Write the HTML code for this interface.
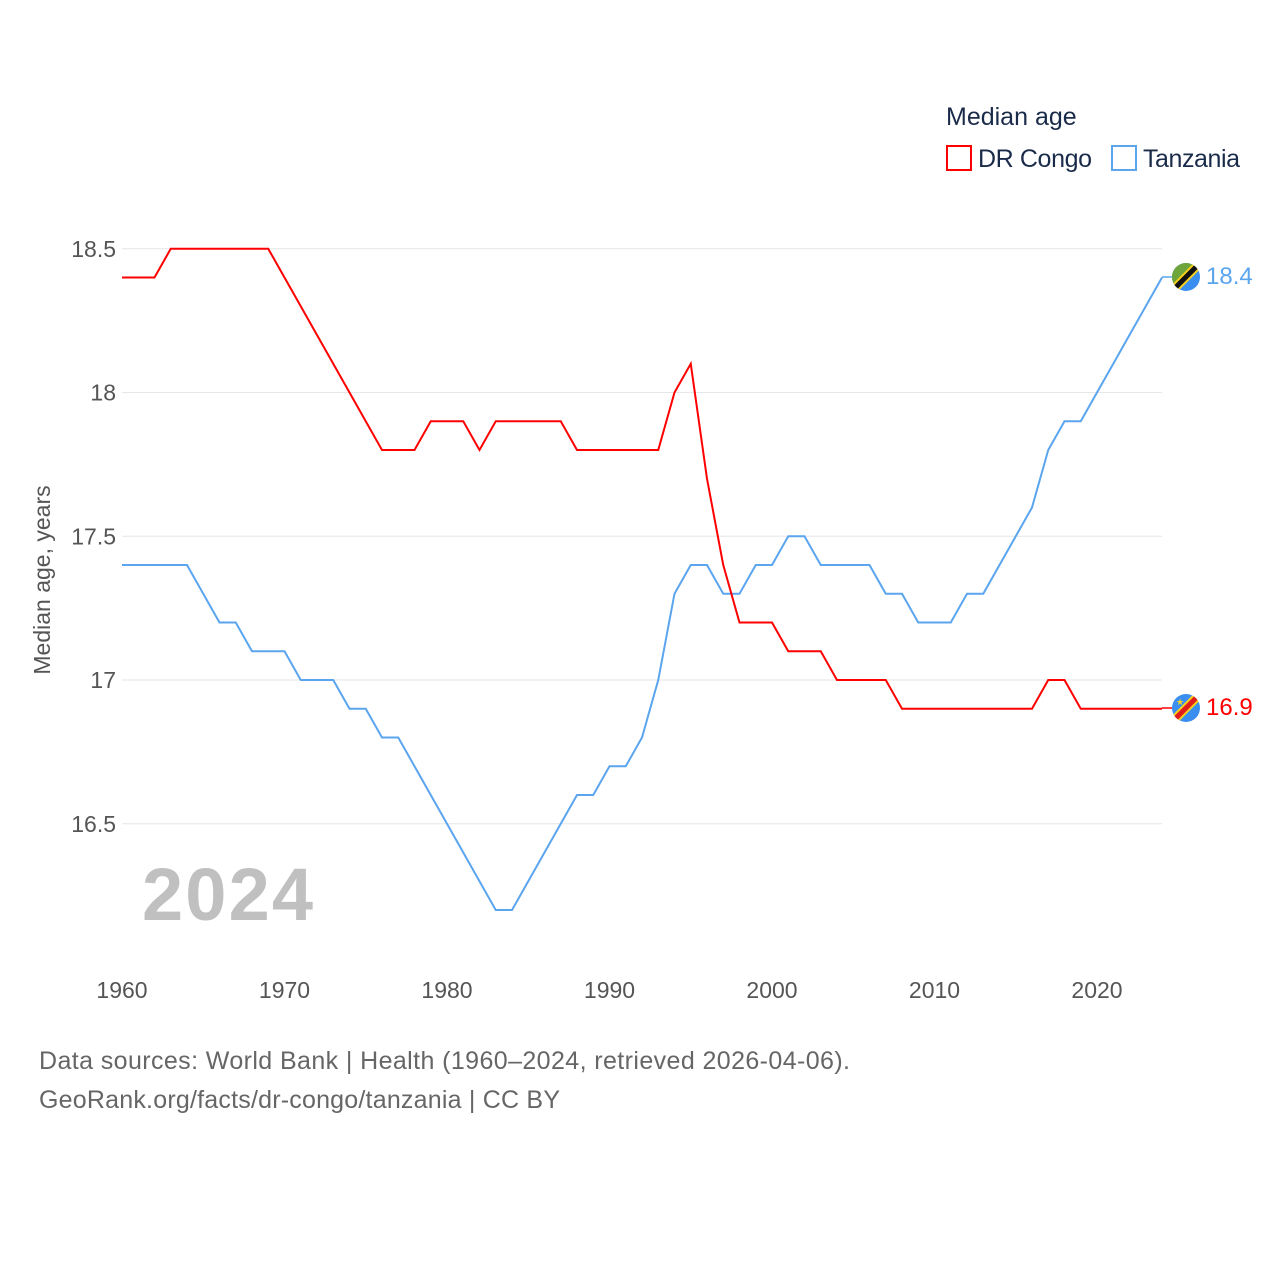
<!DOCTYPE html>
<html><head><meta charset="utf-8"><style>
body{margin:0;background:#fff;font-family:"Liberation Sans",sans-serif;}
svg text{font-family:"Liberation Sans",sans-serif;}
</style></head><body>
<svg id="chart" width="1280" height="1280" xmlns="http://www.w3.org/2000/svg">
<text x="946" y="125" font-size="25" fill="#1a2b4a">Median age</text>
<g><rect x="947" y="146" width="24" height="24" fill="none" stroke="#ff0000" stroke-width="2"/><text x="978" y="167" font-size="25" fill="#1a2b4a" textLength="114">DR Congo</text></g>
<g><rect x="1112" y="146" width="24" height="24" fill="none" stroke="#5aa5ee" stroke-width="2"/><text x="1143" y="167" font-size="25" fill="#1a2b4a" textLength="97">Tanzania</text></g>
<g id="grid"></g>
<g id="xticks"></g>
<text transform="translate(50,580) rotate(-90)" text-anchor="middle" font-size="23" fill="#555">Median age, years</text>
<text x="142" y="920" font-size="74" font-weight="bold" fill="#c0c0c0" textLength="171">2024</text>
<g id="series"></g>
<line x1="1162" y1="277" x2="1172" y2="277" stroke="#5aa5ee" stroke-width="1.5"/>
<line x1="1162" y1="708" x2="1172" y2="708" stroke="#ff0000" stroke-width="1.5"/>
<g>
<clipPath id="c1"><circle cx="1186" cy="277" r="14"/></clipPath>
<g clip-path="url(#c1)"><rect x="1170" y="261" width="32" height="32" fill="#3a8ef0"/><polygon points="1170,261 1202,261 1170,293" fill="#6fa43a"/><line x1="1170" y1="293" x2="1202" y2="261" stroke="#f5d020" stroke-width="9"/><line x1="1170" y1="293" x2="1202" y2="261" stroke="#111" stroke-width="5"/></g></g>
<g>
<clipPath id="c2"><circle cx="1186" cy="708" r="14"/></clipPath>
<g clip-path="url(#c2)"><rect x="1170" y="692" width="32" height="32" fill="#3a8ef0"/><line x1="1170" y1="724" x2="1202" y2="692" stroke="#f5d020" stroke-width="9"/><line x1="1170" y1="724" x2="1202" y2="692" stroke="#e21b1b" stroke-width="5"/><text x="1176" y="705" font-size="9" fill="#f5d020">★</text></g></g>
<text x="1206" y="284" font-size="24" fill="#5aa5ee">18.4</text>
<text x="1206" y="715" font-size="24" fill="#ff0000">16.9</text>
<text x="39" y="1069" font-size="25" fill="#666" textLength="811">Data sources: World Bank | Health (1960–2024, retrieved 2026-04-06).</text>
<text x="39" y="1108" font-size="25" fill="#666" textLength="521">GeoRank.org/facts/dr-congo/tanzania | CC BY</text>
</svg>
<script>
const years=[];for(let y=1960;y<=2024;y++)years.push(y);
const congo=[18.4,18.4,18.4,18.5,18.5,18.5,18.5,18.5,18.5,18.5,18.4,18.3,18.2,18.1,18.0,17.9,17.8,17.8,17.8,17.9,17.9,17.9,17.8,17.9,17.9,17.9,17.9,17.9,17.8,17.8,17.8,17.8,17.8,17.8,18.0,18.1,17.7,17.4,17.2,17.2,17.2,17.1,17.1,17.1,17.0,17.0,17.0,17.0,16.9,16.9,16.9,16.9,16.9,16.9,16.9,16.9,16.9,17.0,17.0,16.9,16.9,16.9,16.9,16.9,16.9];
const tanzania=[17.4,17.4,17.4,17.4,17.4,17.3,17.2,17.2,17.1,17.1,17.1,17.0,17.0,17.0,16.9,16.9,16.8,16.8,16.7,16.6,16.5,16.4,16.3,16.2,16.2,16.3,16.4,16.5,16.6,16.6,16.7,16.7,16.8,17.0,17.3,17.4,17.4,17.3,17.3,17.4,17.4,17.5,17.5,17.4,17.4,17.4,17.4,17.3,17.3,17.2,17.2,17.2,17.3,17.3,17.4,17.5,17.6,17.8,17.9,17.9,18.0,18.1,18.2,18.3,18.4];
const yTicks=[16.5,17,17.5,18,18.5];
const yTickLabels=["16.5","17","17.5","18","18.5"];
const xTicks=[1960,1970,1980,1990,2000,2010,2020];
const NS="http://www.w3.org/2000/svg";
const xs=y=>122+(y-1960)*16.25;
const ys=v=>680-(v-17)*287.5;
const grid=document.getElementById('grid');
yTicks.forEach((t,i)=>{
 const l=document.createElementNS(NS,'line');
 l.setAttribute('x1',122);l.setAttribute('x2',1162);l.setAttribute('y1',ys(t));l.setAttribute('y2',ys(t));
 l.setAttribute('stroke','#e6e6e6');l.setAttribute('stroke-width','1');
 
 
 grid.appendChild(l);
 const tx=document.createElementNS(NS,'text');
 tx.setAttribute('x',116);tx.setAttribute('y',ys(t)+8);tx.setAttribute('text-anchor','end');
 tx.setAttribute('font-size','23');tx.setAttribute('fill','#555');tx.textContent=yTickLabels[i];
 
 
 grid.appendChild(tx);
});
const xt=document.getElementById('xticks');
xTicks.forEach(t=>{
 const tx=document.createElementNS(NS,'text');
 tx.setAttribute('x',xs(t));tx.setAttribute('y',998);tx.setAttribute('text-anchor','middle');
 tx.setAttribute('font-size','23');tx.setAttribute('fill','#555');tx.textContent=t;
 
 
 xt.appendChild(tx);
});
const sg=document.getElementById('series');
[[tanzania,'#5aa5ee','tanzania-line'],[congo,'#ff0000','dr-congo-line']].forEach(([d,c,n])=>{
 const p=document.createElementNS(NS,'polyline');
 p.setAttribute('points',d.map((v,i)=>xs(years[i])+','+ys(v)).join(' '));
 p.setAttribute('fill','none');p.setAttribute('stroke',c);p.setAttribute('stroke-width','2');
 
 
 sg.appendChild(p);
});
</script>
</body></html>
